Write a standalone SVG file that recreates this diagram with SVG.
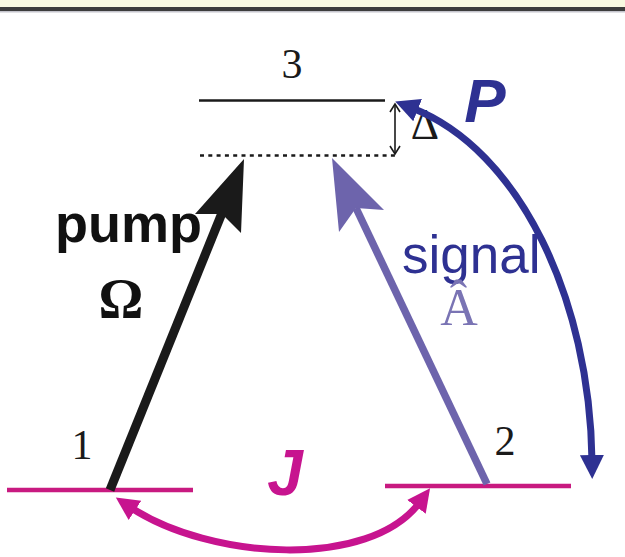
<svg xmlns="http://www.w3.org/2000/svg" width="625" height="557" viewBox="0 0 625 557">
<style>
.serif{font-family:"Liberation Serif","Times New Roman",serif;}
.sans{font-family:"Liberation Sans",Arial,sans-serif;}
.lvl{stroke-width:4.5;fill:none;}
</style>
<defs>
<marker id="headP" markerUnits="userSpaceOnUse" markerWidth="26" markerHeight="26" viewBox="0 0 26 26" refX="6" refY="13" orient="auto-start-reverse">
<path d="M0,1 L24,13 L0,25 z" fill="#2e3192"/>
</marker>
<marker id="headJ" markerUnits="userSpaceOnUse" markerWidth="26" markerHeight="26" viewBox="0 0 26 26" refX="6" refY="13" orient="auto-start-reverse">
<path d="M0,1.5 L23,13 L0,24.5 z" fill="#c7148f"/>
</marker>
<marker id="headD" markerUnits="userSpaceOnUse" markerWidth="12" markerHeight="12" viewBox="0 0 12 12" refX="10" refY="6" orient="auto-start-reverse">
<path d="M2,1 L10,6 L2,11" fill="none" stroke="#1a1a1a" stroke-width="1.6"/>
</marker>
</defs>
<rect x="0" y="0" width="625" height="557" fill="#ffffff"/>
<rect x="0" y="0" width="625" height="7" fill="#f8f9e1"/>
<rect x="0" y="7" width="625" height="4" fill="#3c3c3c"/>
<rect x="0" y="11" width="625" height="1.5" fill="#c4c4cc"/>

<g id="level3">
<line x1="199" y1="100.5" x2="385" y2="100.5" stroke="#1a1a1a" stroke-width="2.5"/>
<text class="serif" x="292" y="78" font-size="42" text-anchor="middle" fill="#1a1a1a">3</text>
</g>
<g id="virtual-level">
<line x1="200" y1="155.5" x2="395" y2="155.5" stroke="#1a1a1a" stroke-width="2.5" stroke-dasharray="4 4.3"/>
</g>
<g id="level1">
<line class="lvl" x1="7" y1="490" x2="193" y2="490" stroke="#c81a80"/>
<text class="serif" x="82" y="459" font-size="42" text-anchor="middle" fill="#1a1a1a">1</text>
</g>
<g id="level2">
<line class="lvl" x1="385" y1="486" x2="571" y2="486" stroke="#c81a80"/>
<text class="serif" x="505" y="455" font-size="42" text-anchor="middle" fill="#1a1a1a">2</text>
</g>
<g id="delta">
<line x1="395" y1="104" x2="395" y2="154" stroke="#1a1a1a" stroke-width="1.6" marker-start="url(#headD)" marker-end="url(#headD)"/>
<text class="serif" x="425" y="139" font-size="44" text-anchor="middle" fill="#1a1a1a">Δ</text>
</g>
<g id="connectors">
<g id="pump-arrow">
<line x1="110" y1="490" x2="222" y2="213" stroke="#1a1a1a" stroke-width="9"/>
<polygon points="244,159 241,233 222,214 195,214" fill="#1a1a1a"/>
</g>
<g id="signal-arrow">
<line x1="487" y1="484" x2="356" y2="208" stroke="#6d64ac" stroke-width="7.5"/>
<polygon points="332,158 339,232 356,208 384,210" fill="#6d64ac"/>
</g>
<path id="P-arc" d="M412,108 C520,150 590,300 592,461" fill="none" stroke="#2e3192" stroke-width="7" marker-start="url(#headP)" marker-end="url(#headP)"/>
<path id="J-arc" d="M130,507 C210,560 370,570 420,502" fill="none" stroke="#c7148f" stroke-width="7" marker-start="url(#headJ)" marker-end="url(#headJ)"/>
</g>
<g id="labels">
<text class="sans" x="55" y="242" font-size="54" font-weight="bold" fill="#111111">pump</text>
<text class="serif" x="121" y="318" font-size="56" font-weight="bold" text-anchor="middle" fill="#111111">Ω</text>
<text class="sans" x="402" y="273" font-size="53" fill="#2e3192">signal</text>
<text class="serif" x="459" y="325" font-size="52" text-anchor="middle" fill="#7a74b4">Â</text>
<text class="sans" x="485" y="122" font-size="62" font-weight="bold" font-style="italic" text-anchor="middle" fill="#2e3192">P</text>
<text class="sans" x="285" y="495" font-size="64" font-weight="bold" font-style="italic" text-anchor="middle" fill="#c7148f">J</text>
</g>
</svg>
